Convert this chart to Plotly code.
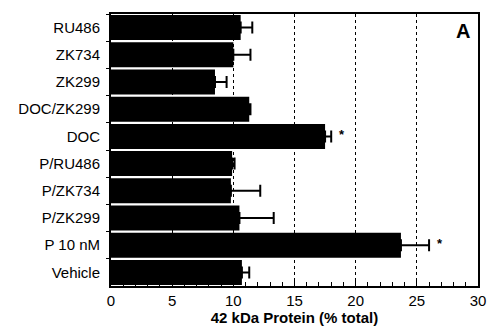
import plotly.graph_objects as go

categories = ["RU486", "ZK734", "ZK299", "DOC/ZK299", "DOC",
              "P/RU486", "P/ZK734", "P/ZK299", "P 10 nM", "Vehicle"]
values = [10.6, 10.0, 8.5, 11.3, 17.5, 9.9, 9.8, 10.5, 23.7, 10.7]
errors = [0.95, 1.4, 0.95, 0.1, 0.5, 0.2, 2.4, 2.8, 2.3, 0.6]
significant = [False, False, False, False, True, False, False, False, True, False]
x_ticks = [0, 5, 10, 15, 20, 25, 30]

font_family = "Liberation Sans, Arial, Helvetica, sans-serif"

fig = go.Figure()
fig.add_trace(go.Bar(
    y=categories, x=values, orientation="h",
    marker=dict(color="black", line=dict(width=0)),
    error_x=dict(type="data", array=errors, arrayminus=[0] * len(errors),
                 symmetric=False, color="black", thickness=2, width=6),
    showlegend=False,
))

for cat, v, e, s in zip(categories, values, errors, significant):
    if s:
        fig.add_annotation(x=v + e, y=cat, text="<b>*</b>", showarrow=False,
                           xanchor="left", xshift=6, yshift=2,
                           font=dict(size=13, color="black", family=font_family))

fig.add_annotation(x=0.985, y=0.985, xref="paper", yref="paper", text="<b>A</b>",
                   showarrow=False, xanchor="right", yanchor="top",
                   font=dict(size=20, color="black", family=font_family))

fig.update_layout(
    width=491, height=332,
    margin=dict(l=111, r=13, t=14, b=46),
    paper_bgcolor="white", plot_bgcolor="white",
    bargap=0.08,
    font=dict(family=font_family, color="black"),
    xaxis=dict(
        range=[0, 30], tickvals=x_ticks, ticks="inside", ticklen=5,
        tickcolor="black", tickwidth=1, automargin=False,
        minor=dict(dtick=1, ticks="inside", ticklen=4, tickcolor="black", showgrid=False),
        showgrid=True, gridcolor="black", griddash="dot", gridwidth=1,
        showline=True, linecolor="black", linewidth=2, mirror=True,
        zeroline=False,
        tickfont=dict(size=15, family=font_family),
        title=dict(text="<b>42 kDa Protein (% total)</b>", standoff=4,
                   font=dict(size=15, family=font_family)),
    ),
    yaxis=dict(
        categoryorder="array", categoryarray=categories, autorange="reversed",
        ticks="outside", tickson="boundaries", ticklen=3, tickcolor="black",
        showline=True, linecolor="black", linewidth=2, mirror=True,
        showgrid=False, ticklabelstandoff=6, automargin=False,
        tickfont=dict(size=15, family=font_family),
    ),
)

fig.write_html("out.html", config={"displayModeBar": False},
               post_script="document.body.style.margin='0';document.body.style.overflow='hidden';")
